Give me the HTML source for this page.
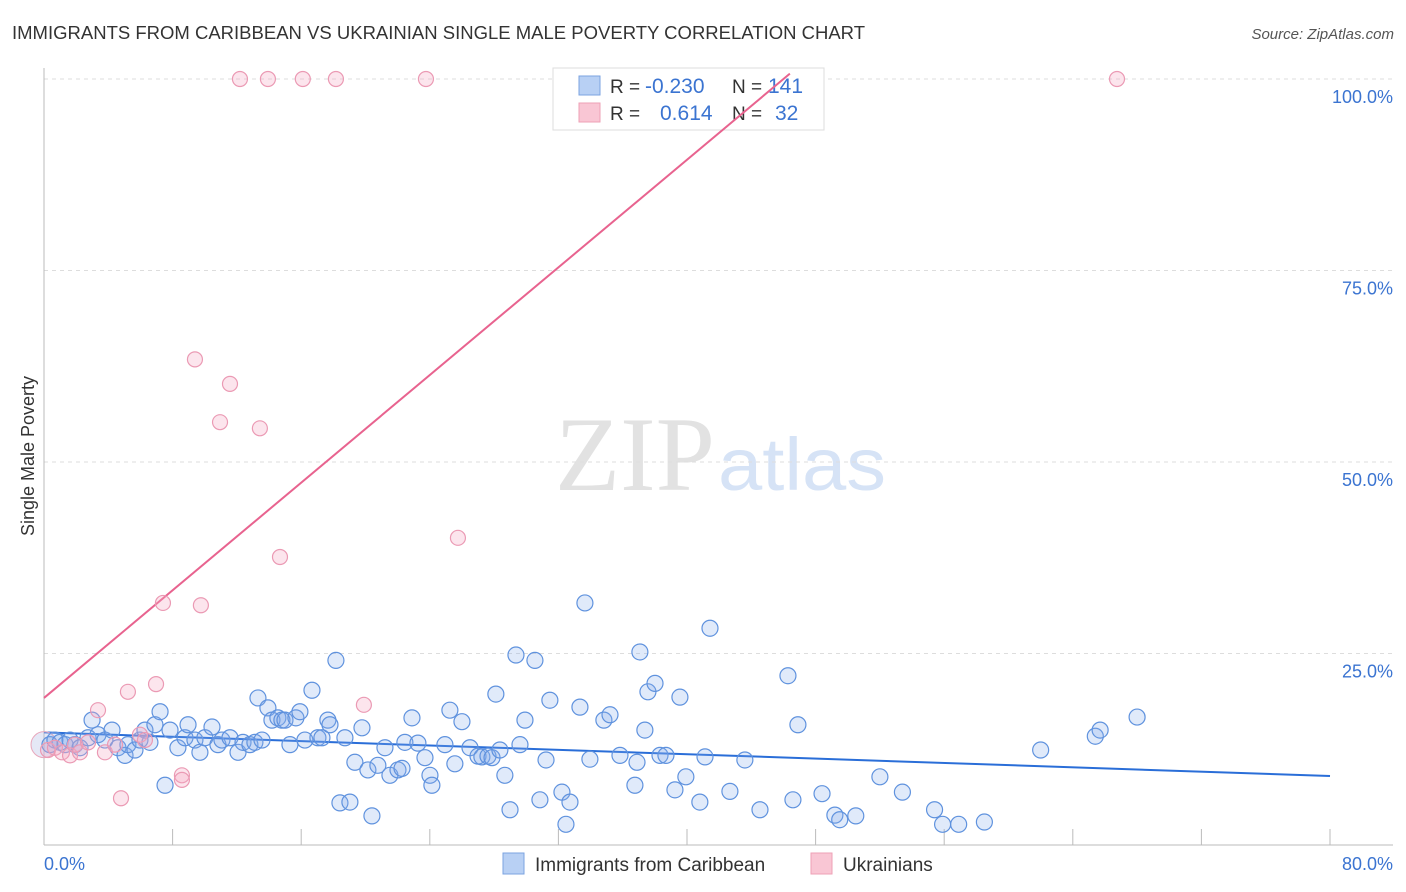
<!DOCTYPE html>
<html><head><meta charset="utf-8">
<style>
body{margin:0;background:#fff;font-family:"Liberation Sans",sans-serif;}
svg{display:block}
</style></head>
<body>
<svg id="chart" width="1406" height="892">
<text x="12" y="39" font-size="18" fill="#333" textLength="853" lengthAdjust="spacingAndGlyphs">IMMIGRANTS FROM CARIBBEAN VS UKRAINIAN SINGLE MALE POVERTY CORRELATION CHART</text>
<text x="1394" y="39" font-size="15" fill="#555" text-anchor="end" font-style="italic">Source: ZipAtlas.com</text>
<g>
<text x="555" y="490" font-size="106" fill="#e2e2e2" font-family="Liberation Serif,serif" textLength="160" lengthAdjust="spacingAndGlyphs">ZIP</text>
<text x="718" y="490" font-size="74" fill="#d6e3f6" textLength="168" lengthAdjust="spacingAndGlyphs">atlas</text>
</g>
<g id="grid"></g>
<g id="axes"></g>
<text transform="translate(34,456) rotate(-90)" font-size="18" fill="#333" text-anchor="middle">Single Male Poverty</text>
<g>
<rect x="553" y="68" width="271" height="62" fill="#fff" stroke="#ddd"/>
<rect x="579" y="76" width="21" height="19" fill="#b8d0f4" stroke="#7ba3e0"/>
<rect x="579" y="103" width="21" height="19" fill="#f9c6d4" stroke="#eea0b6"/>
<text x="610" y="93" font-size="19" fill="#333">R =</text>
<text x="645" y="93" font-size="21" fill="#3b74d1">-0.230</text>
<text x="732" y="93" font-size="19" fill="#333">N =</text>
<text x="768" y="93" font-size="21" fill="#3b74d1">141</text>
<text x="610" y="120" font-size="19" fill="#333">R =</text>
<text x="660" y="120" font-size="21" fill="#3b74d1">0.614</text>
<text x="732" y="120" font-size="19" fill="#333">N =</text>
<text x="775" y="120" font-size="21" fill="#3b74d1">32</text>
</g>
<g id="lines"></g>
<g id="pts"></g>
<g>
<rect x="503" y="853" width="21" height="21" fill="#b8d0f4" stroke="#7ba3e0"/>
<text x="535" y="871" font-size="19" fill="#333">Immigrants from Caribbean</text>
<rect x="811" y="853" width="21" height="21" fill="#f9c6d4" stroke="#eea0b6"/>
<text x="843" y="871" font-size="19" fill="#333">Ukrainians</text>
</g>
</svg>
<script>
const blueX=[0.37,0.68,1.0,1.31,1.62,1.93,2.24,2.74,2.99,3.36,3.79,4.23,4.6,5.04,5.22,5.66,5.97,6.28,6.59,6.9,7.22,7.53,7.84,8.33,8.77,8.96,9.39,9.7,10.01,10.45,10.82,11.07,11.57,12.07,12.38,12.81,13.12,13.31,13.56,13.93,14.18,14.55,14.8,14.99,15.3,15.67,15.92,16.23,16.67,17.04,17.29,17.66,17.79,18.16,18.41,18.72,19.03,19.34,19.78,20.15,20.4,20.77,21.21,21.52,22.02,22.27,22.45,22.89,23.26,23.7,24.01,24.13,24.94,25.25,25.56,26.0,26.5,27.0,27.24,27.62,27.87,28.11,28.36,28.67,28.99,29.36,29.61,29.92,30.54,30.85,31.23,31.47,32.22,32.47,32.72,33.34,33.65,33.96,34.83,35.21,35.83,36.76,36.89,37.07,37.38,37.57,38.01,38.32,38.69,39.25,39.56,39.93,40.8,41.12,41.43,42.67,43.6,44.54,46.28,46.59,46.9,48.4,49.2,49.5,50.5,52.0,53.4,55.4,55.9,56.9,58.5,62.0,65.4,65.7,68.0];
const blueY=[13.1,13.7,13.4,13.1,13.7,13.1,12.7,14.0,16.3,14.4,13.7,15.0,12.7,11.7,13.1,12.4,13.7,15.0,13.4,15.7,17.4,7.8,15.0,12.7,14.0,15.7,13.7,12.1,14.0,15.4,13.1,13.7,14.0,12.1,13.4,13.1,13.4,19.2,13.7,17.9,16.3,16.6,16.3,16.3,13.1,16.6,17.4,13.7,20.2,14.0,14.0,16.3,15.7,24.1,5.5,14.0,5.6,10.8,15.3,9.8,3.8,10.4,12.7,9.1,9.8,10.0,13.4,16.6,13.3,11.4,9.1,7.8,13.1,17.6,10.6,16.1,12.7,11.6,11.5,11.6,11.4,19.7,12.4,9.1,4.6,24.8,13.1,16.3,24.1,5.9,11.1,18.9,6.9,2.7,5.6,18.0,31.6,11.2,16.3,17.0,11.7,7.8,10.8,25.2,15.0,20.0,21.1,11.7,11.7,7.2,19.3,8.9,5.6,11.5,28.3,7.0,11.1,4.6,22.1,5.9,15.7,6.7,3.9,3.3,3.8,8.9,6.9,4.6,2.7,2.7,3.0,12.4,14.2,15.0,16.7];
const pinkX=[0.25,0.68,1.12,1.62,1.93,2.24,2.74,3.36,3.79,4.42,4.79,5.22,5.97,6.28,6.97,7.4,8.58,8.58,9.39,9.76,10.95,11.57,12.19,13.43,13.93,14.68,16.1,18.16,19.9,23.76,25.75,66.75];
const pinkY=[12.4,12.7,12.1,11.7,13.1,12.1,13.4,17.6,12.1,13.1,6.1,20.0,14.4,13.7,21.0,31.6,9.1,8.5,63.4,31.3,55.2,60.2,100,54.4,100,37.6,100,100,18.3,100,40.1,100];
const yTicks=[25,50,75,100];
const trendBlue=[[0,14.7],[80,9.0]];
const trendPink=[[0,19.2],[46.4,100.7]];
const X0=44,X1=1330,Y0=845,Y100=79;
const sx=v=>X0+(X1-X0)*v/80, sy=v=>Y0-(Y0-Y100)*v/100;
const NS="http://www.w3.org/2000/svg";
function mk(t,a,p){const e=document.createElementNS(NS,t);for(const k in a)e.setAttribute(k,a[k]);p.appendChild(e);return e;}
const grid=document.getElementById('grid'),axes=document.getElementById('axes');
yTicks.forEach(v=>{
 const l=mk('line',{x1:X0,x2:1393,y1:sy(v),y2:sy(v),stroke:'#ddd','stroke-dasharray':'4,4'},grid);
 
 
 const t=mk('text',{x:1393,y:sy(v)+24,'font-size':18,fill:'#3b74d1','text-anchor':'end'},axes);
 t.textContent=v.toFixed(1)+'%';
 
 
});
const ya=mk('line',{x1:X0,x2:X0,y1:68,y2:Y0,stroke:'#bbb'},axes);


const xa=mk('line',{x1:X0,x2:1393,y1:Y0,y2:Y0,stroke:'#bbb'},axes);


for(let i=0;i<=10;i++){const x=sx(i*8);const tk=mk('line',{x1:x,x2:x,y1:Y0,y2:Y0-16,stroke:'#bbb'},axes);
 
 }
[['0.0%',X0,'start'],['80.0%',1393,'end']].forEach(d=>{const t=mk('text',{x:d[1],y:870,'font-size':18,fill:'#3b74d1','text-anchor':d[2]},axes);t.textContent=d[0];
 
 });
const lines=document.getElementById('lines');
const lb=mk('line',{x1:sx(trendBlue[0][0]),y1:sy(trendBlue[0][1]),x2:sx(trendBlue[1][0]),y2:sy(trendBlue[1][1]),stroke:'#2a6ed8','stroke-width':2},lines);


const lp=mk('line',{x1:sx(trendPink[0][0]),y1:sy(trendPink[0][1]),x2:sx(trendPink[1][0]),y2:sy(trendPink[1][1]),stroke:'#e8638f','stroke-width':2},lines);


const pts=document.getElementById('pts');
const big=mk('circle',{cx:sx(0),cy:sy(13.1),r:13,fill:'rgba(180,190,230,0.35)',stroke:'#e8a8bc'},pts);


blueX.forEach((x,i)=>{const c=mk('circle',{cx:sx(x),cy:sy(blueY[i]),r:8,fill:'rgba(130,170,235,0.25)',stroke:'#5f92de','stroke-width':1.2},pts);
 
 });
pinkX.forEach((x,i)=>{const c=mk('circle',{cx:sx(x),cy:sy(pinkY[i]),r:7.5,fill:'rgba(245,170,195,0.3)',stroke:'#eb9ab4','stroke-width':1.2},pts);
 
 });
</script>
</body></html>
